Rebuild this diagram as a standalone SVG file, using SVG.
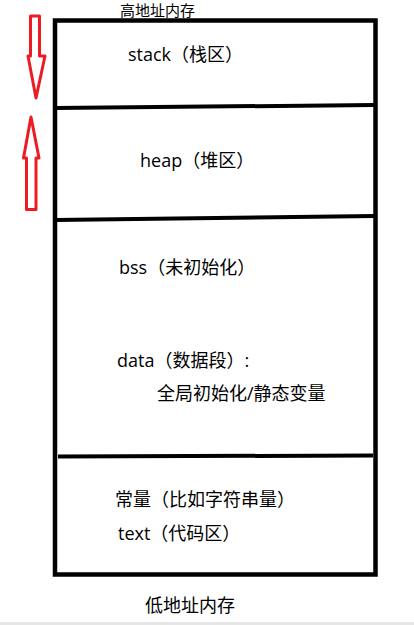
<svg xmlns="http://www.w3.org/2000/svg" width="414" height="625" viewBox="0 0 414 625">
<style>
.t{font-family:"Open Sans","Noto Sans CJK SC",sans-serif;font-size:18px;fill:#000}
.frame{fill:none;stroke:#000;stroke-width:4.5}
.sep{stroke:#000;stroke-width:4;fill:none}
.arrow{fill:none;stroke:#ed1c24;stroke-width:3;stroke-linejoin:round}
</style>
<rect width="414" height="625" fill="#fff"/>
<rect x="0" y="622" width="414" height="3" fill="#e6e6e6"/>
<g id="labels-outer">
<text class="t" x="120" y="16" style="font-size:15px">高地址内存</text>
<text class="t" x="145" y="612">低地址内存</text>
</g>
<g id="memory-frame">
<rect class="frame" x="55" y="20.5" width="320.5" height="554"/>
</g>
<g id="connectors">
<line class="sep" x1="55" y1="108" x2="375" y2="105"/>
<line class="sep" x1="55" y1="220" x2="375" y2="216"/>
<line class="sep" x1="58" y1="456.5" x2="373" y2="455.5"/>
</g>
<g id="stack">
<text class="t" x="128" y="61">stack（栈区）</text>
</g>
<g id="heap">
<text class="t" x="140" y="167">heap（堆区）</text>
</g>
<g id="bss">
<text class="t" x="119" y="274">bss（未初始化）</text>
</g>
<g id="data">
<text class="t" x="117" y="367">data（数据段）:</text>
<text class="t" x="157" y="400">全局初始化/静态变量</text>
</g>
<g id="text-seg">
<text class="t" x="115" y="506">常量（比如字符串量）</text>
<text class="t" x="118" y="540">text（代码区）</text>
</g>
<g id="arrows">
<path class="arrow" d="M30.5 16 H39.5 V56 H45 L36 98 L28 56 H30.5 Z"/>
<path class="arrow" d="M31 117 L39 158 H36 V209.5 H26.5 V158 H23.5 Z"/>
</g>
</svg>
